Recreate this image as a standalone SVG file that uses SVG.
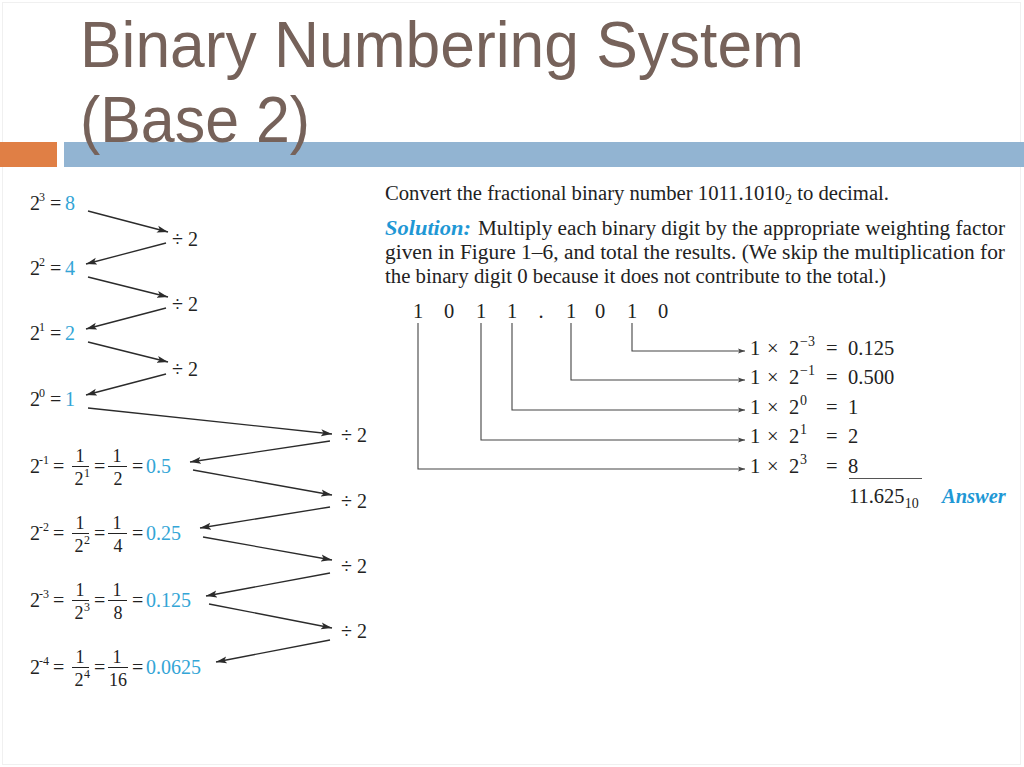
<svg xmlns="http://www.w3.org/2000/svg" width="1024" height="767" viewBox="0 0 1024 767">
<defs>
<marker id="ah" markerUnits="userSpaceOnUse" markerWidth="12" markerHeight="8" refX="11" refY="4" orient="auto">
<path d="M0,0.5 L11,4 L0,7.5 L2.5,4 z" fill="#2b2b2b"/>
</marker>
<marker id="ahs" markerUnits="userSpaceOnUse" markerWidth="8" markerHeight="6" refX="7" refY="3" orient="auto">
<path d="M0,0.5 L7,3 L0,5.5 L1.5,3 z" fill="#444"/>
</marker>
<style>
.t{font-family:"Liberation Sans",Arial,sans-serif;font-size:65px;fill:#76625a}
.m{font-family:"Liberation Serif","Times New Roman",serif;font-size:20px;fill:#222}
.f{font-family:"Liberation Serif","Times New Roman",serif;font-size:18px;fill:#222;text-anchor:middle}
.sup{font-family:"Liberation Serif","Times New Roman",serif;font-size:12px;fill:#222}
.b{fill:#33a5d6}
.p{font-family:"Liberation Serif","Times New Roman",serif;font-size:20.5px;fill:#222}
.e{font-family:"Liberation Serif","Times New Roman",serif;font-size:20.5px;fill:#222}
.es{font-family:"Liberation Serif","Times New Roman",serif;font-size:14px;fill:#222}
.bl{font-weight:bold;font-style:italic;fill:#1f98d5}
.arr{stroke:#2b2b2b;stroke-width:1.3;fill:none;marker-end:url(#ah)}
.bar{stroke:#222;stroke-width:1}
.leada{stroke:#444;stroke-width:1.1;fill:none;marker-end:url(#ahs)}
</style>
</defs>
<rect width="1024" height="767" fill="#ffffff"/>
<rect x="2.5" y="2.5" width="1018" height="762" fill="none" stroke="#f0f0f0" stroke-width="1"/>

<g id="header">
<rect x="0" y="142" width="57" height="25" fill="#e07f45"/>
<rect x="64" y="142" width="960" height="25" fill="#92b4d2"/>
<text class="t" x="80" y="67" textLength="724" lengthAdjust="spacingAndGlyphs">Binary Numbering System</text>
<text class="t" x="80" y="142" textLength="230" lengthAdjust="spacingAndGlyphs">(Base 2)</text>
</g>

<g id="connectors">
<path class="arr" d="M88,211 L168,232"/>
<path class="arr" d="M166,243 L86,264"/>
<path class="arr" d="M88,277 L168,297"/>
<path class="arr" d="M166,308 L86,329"/>
<path class="arr" d="M88,342 L168,362"/>
<path class="arr" d="M166,374 L86,395"/>
<path class="arr" d="M88,408 L332,434"/>
<path class="arr" d="M330,441 L190,462"/>
<path class="arr" d="M193,470 L332,495"/>
<path class="arr" d="M330,507 L200,528"/>
<path class="arr" d="M203,537 L332,560"/>
<path class="arr" d="M330,573 L206,596"/>
<path class="arr" d="M209,604 L332,628"/>
<path class="arr" d="M330,640 L216,662"/>
<path class="leada" d="M632,323 V351 H745"/>
<path class="leada" d="M571,323 V380 H745"/>
<path class="leada" d="M512,323 V410 H745"/>
<path class="leada" d="M481,323 V440 H745"/>
<path class="leada" d="M418,323 V469 H745"/>
</g>

<g id="row-2-3">
<text class="m" x="30" y="210">2</text><text class="sup" x="39" y="201">3</text><text class="m" x="50" y="210">=</text><text class="m b" x="65" y="210">8</text>
</g>
<g id="div-1"><text class="m" x="172" y="246">÷ 2</text></g>
<g id="row-2-2">
<text class="m" x="30" y="275">2</text><text class="sup" x="39" y="266">2</text><text class="m" x="50" y="275">=</text><text class="m b" x="65" y="275">4</text>
</g>
<g id="div-2"><text class="m" x="172" y="311">÷ 2</text></g>
<g id="row-2-1">
<text class="m" x="30" y="340">2</text><text class="sup" x="39" y="331">1</text><text class="m" x="50" y="340">=</text><text class="m b" x="65" y="340">2</text>
</g>
<g id="div-3"><text class="m" x="172" y="376">÷ 2</text></g>
<g id="row-2-0">
<text class="m" x="30" y="406">2</text><text class="sup" x="39" y="397">0</text><text class="m" x="50" y="406">=</text><text class="m b" x="65" y="406">1</text>
</g>
<g id="div-4"><text class="m" x="341" y="442">÷ 2</text></g>

<g id="row-2-m1">
<text class="m" x="30" y="473">2</text><text class="sup" x="39" y="464">-1</text>
<text class="m" x="53" y="473">=</text>
<text class="f" x="80" y="462">1</text><line class="bar" x1="72" y1="466.5" x2="89" y2="466.5"/><text class="f" x="79" y="485">2</text><text class="sup" x="84" y="477">1</text>
<text class="m" x="94" y="473">=</text>
<text class="f" x="117" y="462">1</text><line class="bar" x1="108" y1="466.5" x2="127" y2="466.5"/><text class="f" x="118" y="485">2</text>
<text class="m" x="132" y="473">=</text>
<text class="m b" x="146" y="473">0.5</text>
</g>
<g id="div-5"><text class="m" x="341" y="508">÷ 2</text></g>

<g id="row-2-m2">
<text class="m" x="30" y="540">2</text><text class="sup" x="39" y="531">-2</text>
<text class="m" x="53" y="540">=</text>
<text class="f" x="80" y="529">1</text><line class="bar" x1="72" y1="533.5" x2="89" y2="533.5"/><text class="f" x="79" y="552">2</text><text class="sup" x="84" y="544">2</text>
<text class="m" x="94" y="540">=</text>
<text class="f" x="117" y="529">1</text><line class="bar" x1="108" y1="533.5" x2="127" y2="533.5"/><text class="f" x="118" y="552">4</text>
<text class="m" x="132" y="540">=</text>
<text class="m b" x="146" y="540">0.25</text>
</g>
<g id="div-6"><text class="m" x="341" y="573">÷ 2</text></g>

<g id="row-2-m3">
<text class="m" x="30" y="607">2</text><text class="sup" x="39" y="598">-3</text>
<text class="m" x="53" y="607">=</text>
<text class="f" x="80" y="596">1</text><line class="bar" x1="72" y1="600.5" x2="89" y2="600.5"/><text class="f" x="79" y="619">2</text><text class="sup" x="84" y="611">3</text>
<text class="m" x="94" y="607">=</text>
<text class="f" x="117" y="596">1</text><line class="bar" x1="108" y1="600.5" x2="127" y2="600.5"/><text class="f" x="118" y="619">8</text>
<text class="m" x="132" y="607">=</text>
<text class="m b" x="146" y="607">0.125</text>
</g>
<g id="div-7"><text class="m" x="341" y="638">÷ 2</text></g>

<g id="row-2-m4">
<text class="m" x="30" y="674">2</text><text class="sup" x="39" y="665">-4</text>
<text class="m" x="53" y="674">=</text>
<text class="f" x="80" y="663">1</text><line class="bar" x1="72" y1="667.5" x2="89" y2="667.5"/><text class="f" x="79" y="686">2</text><text class="sup" x="84" y="678">4</text>
<text class="m" x="94" y="674">=</text>
<text class="f" x="117" y="663">1</text><line class="bar" x1="108" y1="667.5" x2="128" y2="667.5"/><text class="f" x="118" y="686">16</text>
<text class="m" x="132" y="674">=</text>
<text class="m b" x="146" y="674">0.0625</text>
</g>

<g id="problem">
<text class="p" x="385" y="200" textLength="504" lengthAdjust="spacingAndGlyphs">Convert the fractional binary number 1011.1010<tspan font-size="14" dy="4">2</tspan><tspan dy="-4"> to decimal.</tspan></text>
<text class="p bl" x="385" y="235" textLength="86" lengthAdjust="spacingAndGlyphs">Solution:</text>
<text class="p" x="478" y="235" textLength="527" lengthAdjust="spacingAndGlyphs">Multiply each binary digit by the appropriate weighting factor</text>
<text class="p" x="385" y="259" textLength="620" lengthAdjust="spacingAndGlyphs">given in Figure 1–6, and total the results. (We skip the multiplication for</text>
<text class="p" x="385" y="283" textLength="501" lengthAdjust="spacingAndGlyphs">the binary digit 0 because it does not contribute to the total.)</text>
</g>

<g id="binary-digits">
<text class="e" text-anchor="middle" x="418" y="318">1</text>
<text class="e" text-anchor="middle" x="449" y="318">0</text>
<text class="e" text-anchor="middle" x="481" y="318">1</text>
<text class="e" text-anchor="middle" x="512" y="318">1</text>
<text class="e" text-anchor="middle" x="541" y="318">.</text>
<text class="e" text-anchor="middle" x="571" y="318">1</text>
<text class="e" text-anchor="middle" x="600" y="318">0</text>
<text class="e" text-anchor="middle" x="632" y="318">1</text>
<text class="e" text-anchor="middle" x="663" y="318">0</text>
</g>

<g id="term-1">
<text class="e" x="750" y="355">1</text><text class="e" x="767" y="355">×</text><text class="e" x="789" y="355">2</text><text class="es" x="800" y="346">−3</text><text class="e" x="826" y="355">=</text><text class="e" x="848" y="355">0.125</text>
</g>
<g id="term-2">
<text class="e" x="750" y="384">1</text><text class="e" x="767" y="384">×</text><text class="e" x="789" y="384">2</text><text class="es" x="800" y="375">−1</text><text class="e" x="826" y="384">=</text><text class="e" x="848" y="384">0.500</text>
</g>
<g id="term-3">
<text class="e" x="750" y="414">1</text><text class="e" x="767" y="414">×</text><text class="e" x="789" y="414">2</text><text class="es" x="800" y="405">0</text><text class="e" x="826" y="414">=</text><text class="e" x="848" y="414">1</text>
</g>
<g id="term-4">
<text class="e" x="750" y="443">1</text><text class="e" x="767" y="443">×</text><text class="e" x="789" y="443">2</text><text class="es" x="800" y="434">1</text><text class="e" x="826" y="443">=</text><text class="e" x="848" y="443">2</text>
</g>
<g id="term-5">
<text class="e" x="750" y="473">1</text><text class="e" x="767" y="473">×</text><text class="e" x="789" y="473">2</text><text class="es" x="800" y="464">3</text><text class="e" x="826" y="473">=</text><text class="e" x="848" y="473">8</text>
</g>
<g id="total">
<line x1="849" y1="478.5" x2="922" y2="478.5" stroke="#555" stroke-width="1.1"/>
<text class="e" x="849" y="503">11.625<tspan font-size="14" dy="5">10</tspan></text>
<text class="e bl" x="942" y="503">Answer</text>
</g>
</svg>
